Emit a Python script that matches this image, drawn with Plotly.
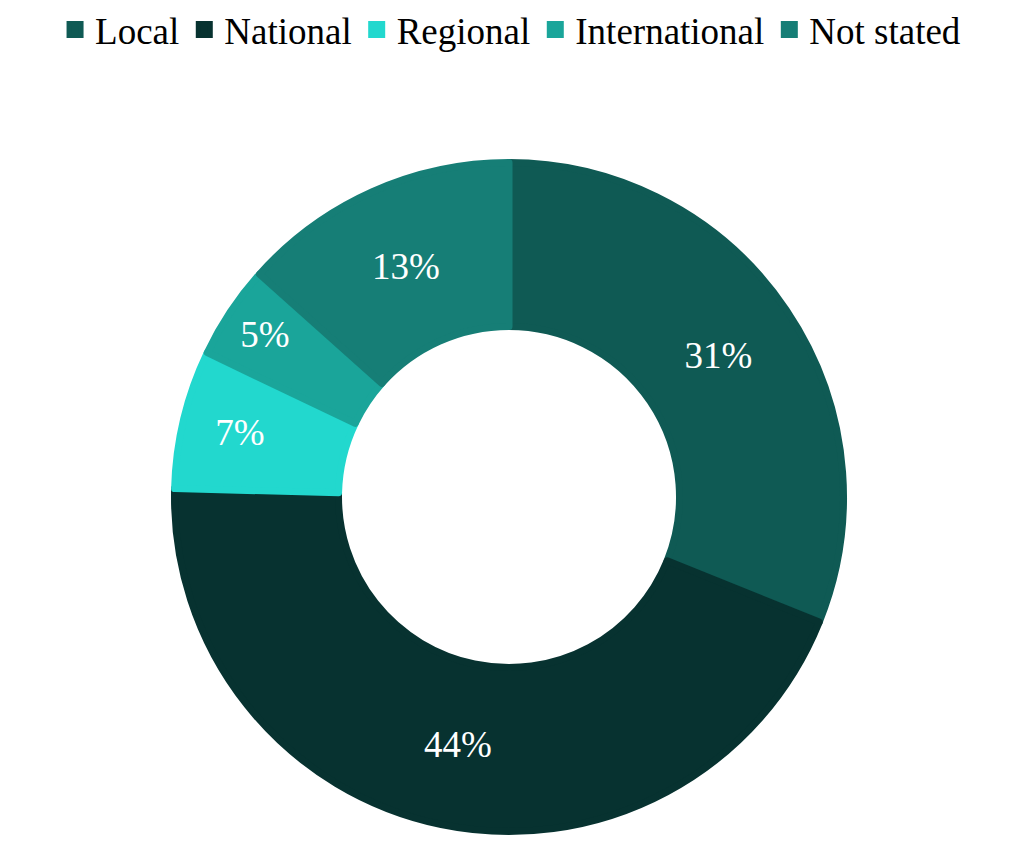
import plotly.graph_objects as go

categories = ["Local", "National", "Regional", "International", "Not stated"]
values = [31.1, 44.3, 6.7, 4.5, 13.4]
pct_labels = ["31%", "44%", "7%", "5%", "13%"]
colors = ["#0F5A54", "#073230", "#22D8CE", "#1AA59A", "#167E76"]

W, H = 1033, 856
# page body has an 8px margin, so target centre (509, 497) -> (501, 489)
cx, cy = 501, 489
LW = 7                      # slice outline in own colour (also enlarges legend squares)
r = 338 - LW / 2
hole = (167 + LW / 2) / r
FONT = "Liberation Serif"

fig = go.Figure(go.Pie(
    labels=categories,
    values=values,
    text=pct_labels,
    textinfo="text",
    hole=hole,
    sort=False,
    direction="clockwise",
    rotation=0,
    marker=dict(colors=colors, line=dict(width=LW, color=colors)),
    textfont=dict(family=FONT, size=37, color="white"),
    insidetextorientation="horizontal",
    domain=dict(x=[(cx - r) / W, (cx + r) / W],
                y=[(H - cy - r) / H, (H - cy + r) / H]),
))

fig.update_layout(
    width=W, height=H,
    margin=dict(l=0, r=0, t=0, b=0, autoexpand=False),
    paper_bgcolor="white",
    plot_bgcolor="white",
    font=dict(family=FONT),
    showlegend=True,
    legend=dict(orientation="h", x=0.4865, xanchor="center", y=1.0105, yanchor="top",
                font=dict(family=FONT, size=37, color="black"),
                itemwidth=30, traceorder="normal"),
)

fig.write_html("out.html")
